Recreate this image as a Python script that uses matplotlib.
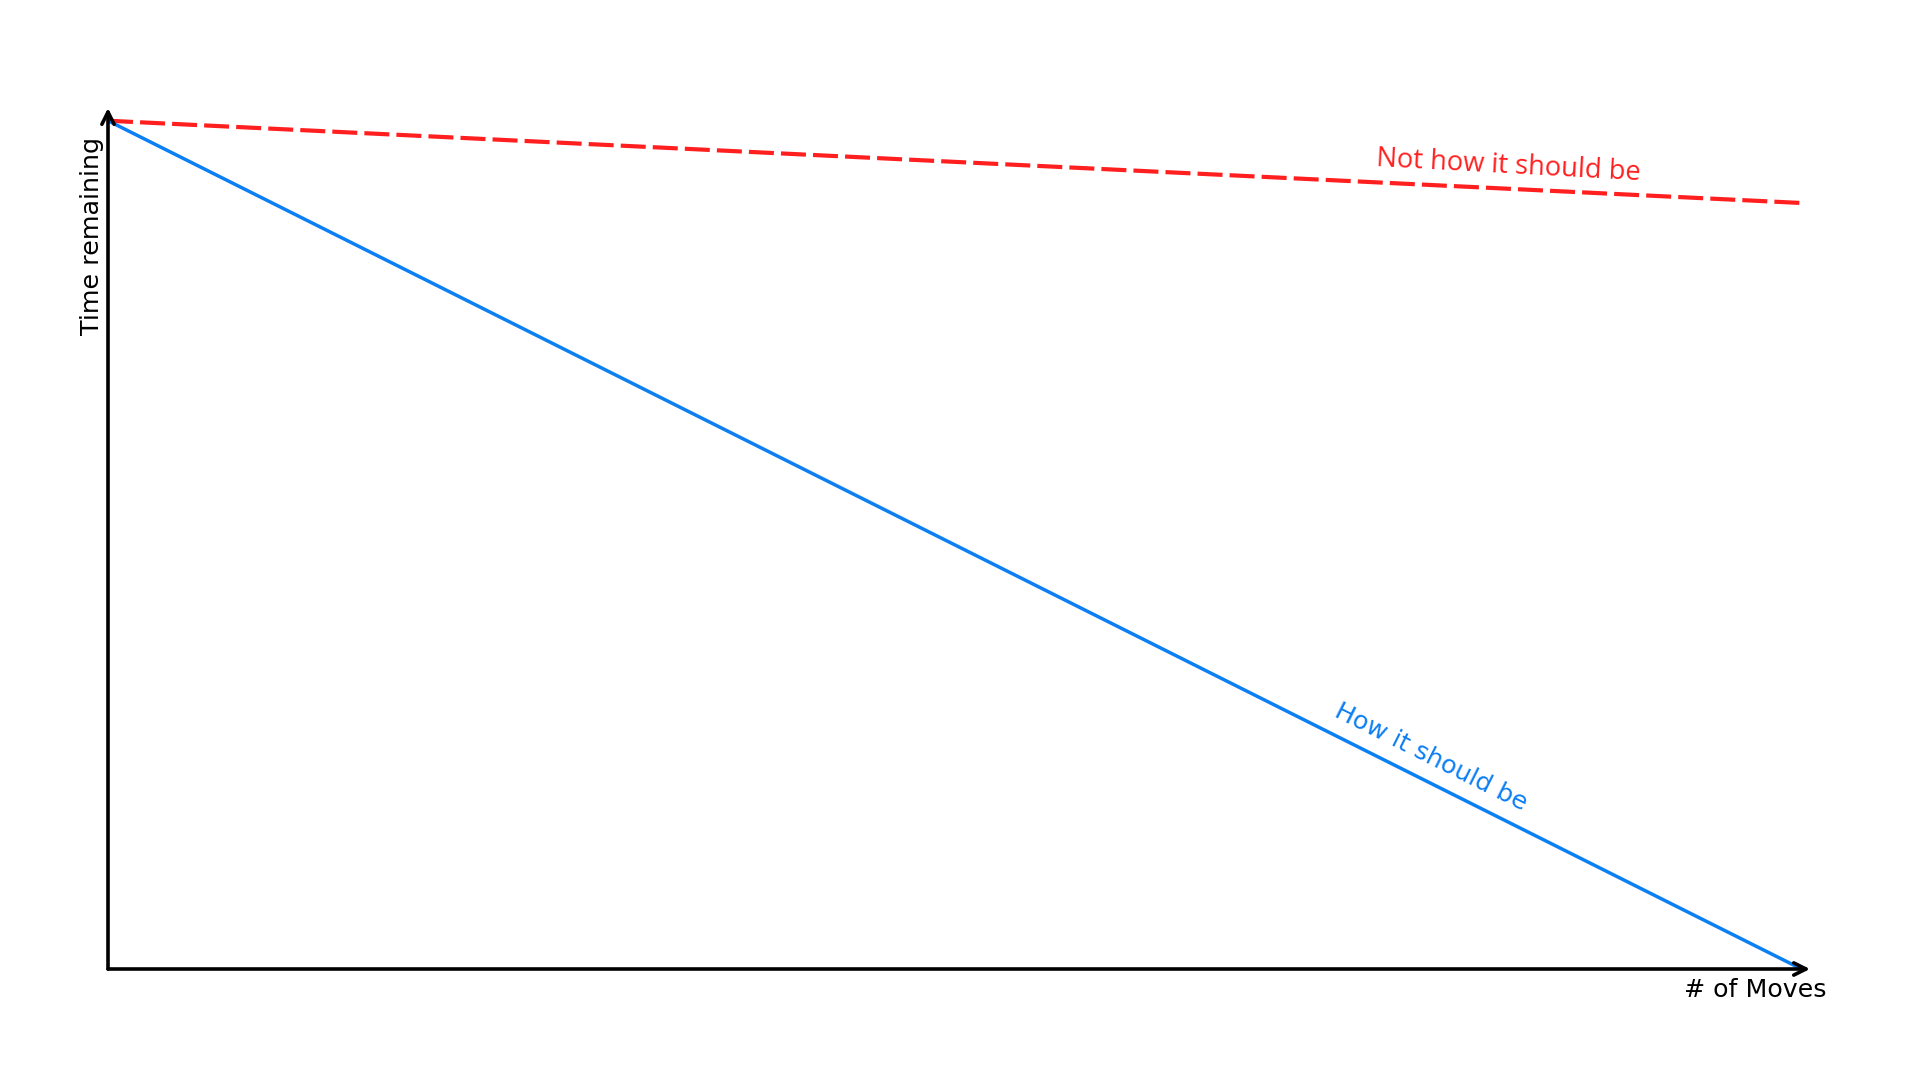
import numpy as np
import matplotlib
matplotlib.use("Agg")
import matplotlib.pyplot as plt

# data
moves = [0, 100]
time_should = [100, 0]
time_not_should = [100, 90.3]

RED = '#ff1f1f'
BLUE = '#0c7ff2'

fig = plt.figure(figsize=(19.2, 10.8), dpi=100)
ax = fig.add_axes([108/1920, 1-969/1080, (1810-108)/1920, (969-108)/1080])
ax.set_xlim(0, 100.5)
ax.set_ylim(0, 101.5)
ax.axis('off')

ax.plot(moves, time_not_should, color=RED, lw=3.0, dashes=(6, 1.7), solid_capstyle='butt')
ax.plot(moves, time_should, color=BLUE, lw=2.5)

# axes with arrow heads
ax.annotate('', xy=(1, 0), xytext=(0, 0), xycoords='axes fraction',
            arrowprops=dict(arrowstyle='->', lw=2.6, color='black', mutation_scale=22, shrinkA=0, shrinkB=0))
ax.annotate('', xy=(0, 1), xytext=(0, 0), xycoords='axes fraction',
            arrowprops=dict(arrowstyle='->', lw=2.6, color='black', mutation_scale=22, shrinkA=0, shrinkB=0))

# labels along the lines, rotated to match slopes
def slope_deg(xs, ys):
    return np.degrees(np.arctan2(ys[1]-ys[0], xs[1]-xs[0]))

ax.text(82.7, 94.7, 'Not how it should be', color=RED, fontsize=19.6, family=['Open Sans', 'DejaVu Sans'],
        ha='center', va='center', rotation=slope_deg(moves, time_not_should) - 0.6,
        transform_rotates_text=True, rotation_mode='anchor')
ax.text(78.1, 25.0, 'How it should be', color=BLUE, fontsize=18.3,
        ha='center', va='center', rotation=slope_deg(moves, time_should),
        transform_rotates_text=True, rotation_mode='anchor')

fig.text(104/1920, 1-137/1080, 'Time remaining', rotation=90, ha='right', va='top', fontsize=18.3)
fig.text(1827/1920, 1-978/1080, '# of Moves', ha='right', va='top', fontsize=18.2)

fig.savefig('out.png', dpi=100, facecolor='white')
